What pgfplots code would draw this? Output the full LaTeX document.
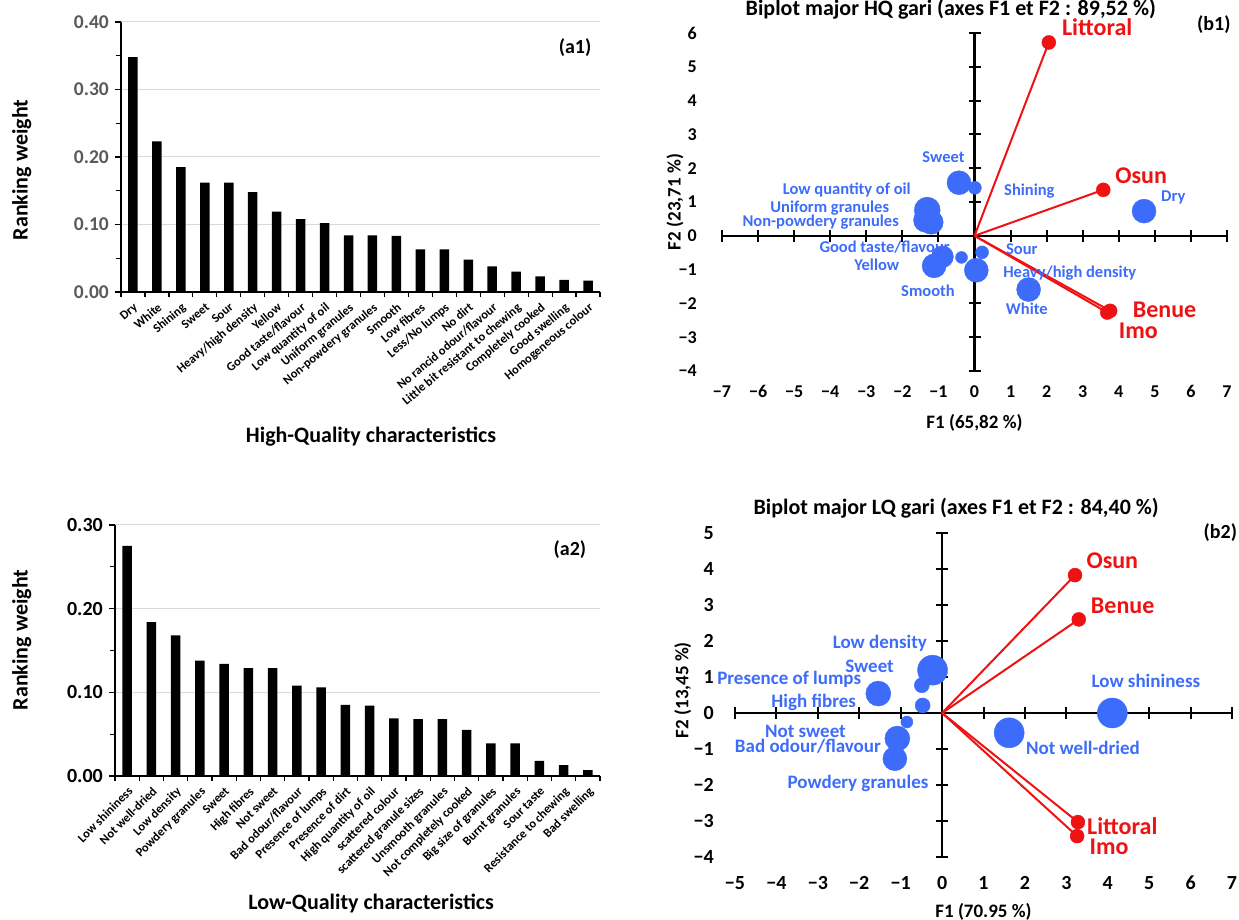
\documentclass[border=0pt]{standalone}
\usepackage{fontspec}
\setmainfont{Carlito}
\usepackage{pgfplots}
\usepackage{pgfplotstable}
\pgfplotsset{compat=1.18}

\definecolor{ptblue}{RGB}{61,108,250}
\definecolor{ptred}{RGB}{238,18,18}
\definecolor{tickgray}{RGB}{89,89,89}
\definecolor{gridgray}{RGB}{217,217,217}
\newcommand{\fs}[1]{\fontsize{#1}{#1}\selectfont}

% ranking weights (a1: high quality, a2: low quality)
\pgfplotstableread{
idx w
0 0.348
1 0.223
2 0.185
3 0.162
4 0.162
5 0.148
6 0.119
7 0.108
8 0.102
9 0.084
10 0.084
11 0.083
12 0.063
13 0.063
14 0.048
15 0.038
16 0.030
17 0.023
18 0.018
19 0.017
}\hqweights

\pgfplotstableread{
idx w
0 0.275
1 0.184
2 0.168
3 0.138
4 0.134
5 0.129
6 0.129
7 0.108
8 0.106
9 0.085
10 0.084
11 0.069
12 0.068
13 0.068
14 0.055
15 0.039
16 0.039
17 0.018
18 0.013
19 0.007
}\lqweights

% biplot variables (x, y, bubble radius) and states
\pgfplotstableread{
x y r
4.70 0.73 12
-0.43 1.57 12
0.01 1.42 6.5
-1.31 0.76 13
-1.36 0.46 12
-1.20 0.40 12
-0.89 -0.62 11
-1.12 -0.89 12
-0.36 -0.64 6
0.21 -0.49 6.5
0.05 -1.02 12
1.50 -1.59 12
}\hqvars

\pgfplotstableread{
name x y
Littoral 2.06 5.72
Osun 3.57 1.36
Benue 3.76 -2.22
Imo 3.68 -2.27
}\hqstates

\pgfplotstableread{
x y r
-0.23 1.19 15
-0.49 0.77 7.5
-0.47 0.21 7.5
-1.54 0.54 12.5
-0.85 -0.25 6
-1.08 -0.71 12.5
-1.14 -1.27 12
1.62 -0.55 15
4.11 0.00 15
}\lqvars

\pgfplotstableread{
name x y
Osun 3.21 3.83
Benue 3.30 2.60
Littoral 3.28 -3.03
Imo 3.26 -3.42
}\lqstates

\pgfplotsset{
  rank/.style={
    scale only axis, anchor=south west, enlargelimits=false,
    axis x line*=bottom, axis y line*=left,
    axis line style={black, line width=1.6pt},
    xmin=-0.5, xmax=19.5, ymin=0,
    ybar, bar width=9.5pt,
    xtick={0,...,19},
    minor xtick={-0.5,0.5,...,19.5},
    tick style={black, line width=1.2pt},
    major x tick style={draw=none},
    tick align=outside,
    major tick length=6pt, minor tick length=5pt,
    ymajorgrids, major grid style={gridgray, line width=1pt},
    xticklabel style={font=\bfseries\fs{12.5}, anchor=north east, inner sep=0pt, yshift=-4pt},
    yticklabel style={inner sep=0pt, xshift=-6pt},
    label style={font=\bfseries\fs{22}},
  },
  bipcross/.style={
    scale only axis, anchor=south west, enlargelimits=false,
    axis lines=middle, axis line style={-, black, line width=2.2pt},
    tick align=center, major tick length=12pt, tick style={black, line width=2pt},
    xticklabel={\relax}, yticklabel={\relax},
  },
  bipframe/.style={
    scale only axis, anchor=south west, enlargelimits=false, clip=false,
    axis line style={draw=none}, tick style={draw=none},
    xticklabel style={inner sep=0pt, anchor=base},
    yticklabel style={inner sep=0pt, anchor=east},
    label style={font=\bfseries\fs{19}},
    title style={font=\bfseries\fs{22}, anchor=center, yshift=0pt},
  },
  bubbles/.style={
    scatter, only marks, mark=*,
    scatter/use mapped color={draw=ptblue, fill=ptblue},
    visualization depends on={\thisrow{r} \as \rad},
    scatter/@pre marker code/.append style={/tikz/mark size=\rad},
  },
  states/.style={only marks, mark=*, mark size=7pt, mark options={draw=ptred, fill=ptred}},
  ray/.style={ptred, line width=2pt},
}

\begin{document}
\begin{tikzpicture}
\useasboundingbox (0,0) rectangle (1239pt,920pt);

% ---------------- (a1)
\begin{axis}[rank, at={(121pt,628pt)}, width=479pt, height=270pt,
  ymax=0.4, ytick={0,0.1,0.2,0.3,0.4}, yticklabels={0.00,0.10,0.20,0.30,0.40},
  minor ytick={0.05,0.15,0.25,0.35},
  yticklabel style={font=\bfseries\fs{19.5}, text=tickgray},
  xticklabel style={rotate=40},
  xticklabels={Dry,White,Shining,Sweet,Sour,Heavy/high density,Yellow,Good taste/flavour,Low quantity of oil,Uniform granules,Non-powdery granules,Smooth,Low fibres,Less/No lumps,No dirt,No rancid odour/flavour,Little bit resistant to chewing,Completely cooked,Good swelling,Homogeneous colour},
  xlabel={High-Quality characteristics},
  xlabel style={at={(axis description cs:0.522,-0.537)}, anchor=center},
  ylabel={Ranking weight},
  ylabel style={at={(axis description cs:-0.207,0.452)}, anchor=center},
]
\addplot[fill=black, draw=none] table[x=idx, y=w] {\hqweights};
\node[font=\bfseries\fs{20}] at (axis description cs:0.948,0.907) {(a1)};
\end{axis}

% ---------------- (a2)
\begin{axis}[rank, at={(115pt,144pt)}, width=485pt, height=251pt,
  ymax=0.3, ytick={0,0.1,0.2,0.3}, yticklabels={0.00,0.10,0.20,0.30},
  minor ytick={0.05,0.15,0.25},
  yticklabel style={font=\bfseries\fs{20}},
  xticklabel style={rotate=45},
  xticklabels={Low shininess,Not well-dried,Low density,Powdery granules,Sweet,High fibres,Not sweet,Bad odour/flavour,Presence of lumps,Presence of dirt,High quantity of oil,scattered colour,scattered granule sizes,Unsmooth granules,Not completely cooked,Big size of granules,Burnt granules,Sour taste,Resistance to chewing,Bad swelling},
  xlabel={Low-Quality characteristics},
  xlabel style={at={(axis description cs:0.528,-0.506)}, anchor=center},
  ylabel={Ranking weight},
  ylabel style={at={(axis description cs:-0.192,0.542)}, anchor=center},
]
\addplot[fill=black, draw=none] table[x=idx, y=w] {\lqweights};
\node[font=\bfseries\fs{20}] at (axis description cs:0.938,0.904) {(a2)};
\end{axis}

% ---------------- (b1)
\begin{axis}[bipcross, at={(722pt,549pt)}, width=505pt, height=338pt,
  xmin=-7, xmax=7, ymin=-4, ymax=6, xtick={-7,...,7}, ytick={-4,...,6}]
\end{axis}
\begin{axis}[bipframe, at={(722pt,549pt)}, width=505pt, height=338pt,
  xmin=-7, xmax=7, ymin=-4, ymax=6, xtick={-7,...,7}, ytick={-4,...,6},
  xticklabels={−7,−6,−5,−4,−3,−2,−1,0,1,2,3,4,5,6,7},
  yticklabels={−4,−3,−2,−1,0,1,2,3,4,5,6},
  xticklabel style={font=\bfseries\fs{18}, yshift=-27pt},
  yticklabel style={font=\bfseries\fs{18}, xshift=-25pt},
  title={Biplot major HQ gari (axes F1 et F2 : 89,52 \%)},
  title style={at={(axis description cs:0.453,1.053)}},
  xlabel={F1 (65,82 \%)}, xlabel style={at={(axis description cs:0.5,-0.154)}, anchor=center},
  ylabel={F2 (23,71 \%)}, ylabel style={at={(axis description cs:-0.093,0.5)}, anchor=center},
]
\addplot[bubbles] table[x=x, y=y] {\hqvars};
\addplot[ray] coordinates {(0,0) (2.06,5.72)};
\addplot[ray] coordinates {(0,0) (3.57,1.36)};
\addplot[ray] coordinates {(0,0) (3.76,-2.22)};
\addplot[ray] coordinates {(0,0) (3.68,-2.27)};
\addplot[states] table[x=x, y=y] {\hqstates};
\begin{scope}[font=\bfseries\fs{16.5}, text=ptblue]
\node at (axis cs:-0.86,2.34) {Sweet};
\node at (axis cs:1.52,1.32) {Shining};
\node at (axis cs:5.51,1.14) {Dry};
\node[anchor=east] at (axis cs:-1.67,1.35) {Low quantity of oil};
\node[anchor=east] at (axis cs:-2.27,0.83) {Uniform granules};
\node[anchor=east] at (axis cs:-2.0,0.40) {Non-powdery granules};
\node[anchor=east] at (axis cs:-0.59,-0.34) {Good taste/flavour};
\node[anchor=east] at (axis cs:-1.99,-0.87) {Yellow};
\node at (axis cs:-1.29,-1.63) {Smooth};
\node at (axis cs:1.31,-0.41) {Sour};
\node[anchor=west] at (axis cs:0.70,-1.10) {Heavy/high density};
\node at (axis cs:1.45,-2.16) {White};
\end{scope}
\begin{scope}[font=\bfseries\fs{24}, text=ptred]
\node at (axis cs:3.4,6.18) {Littoral};
\node at (axis cs:4.62,1.78) {Osun};
\node at (axis cs:5.27,-2.2) {Benue};
\node at (axis cs:4.54,-2.82) {Imo};
\end{scope}
\node[font=\bfseries\fs{20}] at (axis description cs:0.974,1.024) {(b1)};
\end{axis}

% ---------------- (b2)
\begin{axis}[bipcross, at={(735pt,63pt)}, width=497pt, height=324pt,
  xmin=-5, xmax=7, ymin=-4, ymax=5, xtick={-5,...,7}, ytick={-4,...,5}]
\end{axis}
\begin{axis}[bipframe, at={(735pt,63pt)}, width=497pt, height=324pt,
  xmin=-5, xmax=7, ymin=-4, ymax=5, xtick={-5,...,7}, ytick={-4,...,5},
  xticklabels={−5,−4,−3,−2,−1,0,1,2,3,4,5,6,7},
  yticklabels={−4,−3,−2,−1,0,1,2,3,4,5},
  xticklabel style={font=\bfseries\fs{20}, yshift=-33pt},
  yticklabel style={font=\bfseries\fs{20}, xshift=-21pt},
  title={Biplot major LQ gari (axes F1 et F2 : 84,40 \%)},
  title style={at={(axis description cs:0.445,1.059)}},
  xlabel={F1 (70.95 \%)}, xlabel style={at={(axis description cs:0.5,-0.170)}, anchor=center},
  ylabel={F2 (13,45 \%)}, ylabel style={at={(axis description cs:-0.105,0.515)}, anchor=center},
]
\addplot[bubbles] table[x=x, y=y] {\lqvars};
\addplot[ray] coordinates {(0,0) (3.21,3.83)};
\addplot[ray] coordinates {(0,0) (3.30,2.60)};
\addplot[ray] coordinates {(0,0) (3.28,-3.03)};
\addplot[ray] coordinates {(0,0) (3.26,-3.42)};
\addplot[states] table[x=x, y=y] {\lqstates};
\begin{scope}[font=\bfseries\fs{19}, text=ptblue]
\node[anchor=east] at (axis cs:-0.28,1.93) {Low density};
\node at (axis cs:-1.75,1.30) {Sweet};
\node at (axis cs:-3.69,0.94) {Presence of lumps};
\node at (axis cs:-3.10,0.29) {High fibres};
\node at (axis cs:-3.30,-0.50) {Not sweet};
\node at (axis cs:-3.24,-0.93) {Bad odour/flavour};
\node at (axis cs:-2.03,-1.97) {Powdery granules};
\node at (axis cs:3.40,-0.97) {Not well-dried};
\node at (axis cs:4.92,0.88) {Low shininess};
\end{scope}
\begin{scope}[font=\bfseries\fs{24}, text=ptred]
\node at (axis cs:4.11,4.22) {Osun};
\node at (axis cs:4.36,2.97) {Benue};
\node at (axis cs:4.35,-3.13) {Littoral};
\node at (axis cs:4.03,-3.71) {Imo};
\end{scope}
\node[font=\bfseries\fs{20}, anchor=west] at (axis description cs:0.936,1.0) {(b2)};
\end{axis}
\end{tikzpicture}
\end{document}
